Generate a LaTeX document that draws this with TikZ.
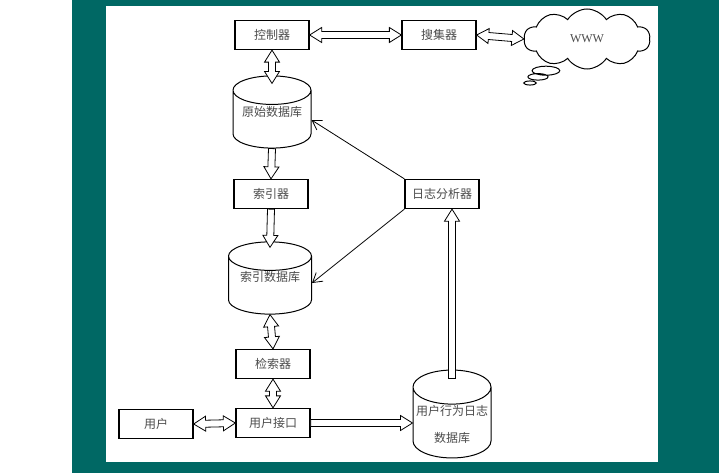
\documentclass[tikz,border=0pt]{standalone}
\usepackage{fontspec}
\setmainfont{Liberation Serif}
\newfontfamily\cjk{Noto Sans CJK SC}
\usepackage{tikz}
\usetikzlibrary{shapes.geometric, shapes.callouts, arrows.meta, calc}
\definecolor{bgteal}{RGB}{0,104,100}
\tikzset{
    box/.style={rectangle, draw, line width=1.3pt, minimum width=74pt, minimum height=29pt, inner sep=1pt, font=\cjk\fontsize{12}{14}\selectfont, text=black!70},
    db/.style={cylinder, shape border rotate=90, draw, line width=1pt, aspect=0.46, inner sep=1pt, anchor=shape center, font=\cjk\fontsize{12}{14}\selectfont, text=black!70},
    fatarrow/.style={draw, line width=0.8pt, fill=white},
    thinarrow/.style={-{Straight Barb[length=9pt, width=11pt]}, line width=0.8pt}
}
\newcommand{\fashaft}{3.5pt}
\newcommand{\fawing}{7.5pt}
\newcommand{\falen}{12pt}
% block arrow, head at #2
\newcommand{\fatarrow}[2]{%
  \coordinate (fa-s) at (#1);
  \coordinate (fa-e) at (#2);
  \coordinate (fa-n) at ($(fa-e)!\falen!(fa-s)$);
  \draw[fatarrow] ($(fa-s)!\fashaft!90:(fa-e)$) -- ($(fa-n)!\fashaft!90:(fa-e)$)
    -- ($(fa-n)!\fawing!90:(fa-e)$) -- (fa-e) -- ($(fa-n)!\fawing!-90:(fa-e)$)
    -- ($(fa-n)!\fashaft!-90:(fa-e)$) -- ($(fa-s)!\fashaft!-90:(fa-e)$) -- cycle;
}
% block arrow, heads at both ends
\newcommand{\fatarrows}[2]{%
  \coordinate (fa-s) at (#1);
  \coordinate (fa-e) at (#2);
  \coordinate (fa-m) at ($(fa-s)!\falen!(fa-e)$);
  \coordinate (fa-n) at ($(fa-e)!\falen!(fa-s)$);
  \draw[fatarrow] (fa-s) -- ($(fa-m)!\fawing!90:(fa-e)$) -- ($(fa-m)!\fashaft!90:(fa-e)$)
    -- ($(fa-n)!\fashaft!90:(fa-e)$) -- ($(fa-n)!\fawing!90:(fa-e)$) -- (fa-e)
    -- ($(fa-n)!\fawing!-90:(fa-e)$) -- ($(fa-n)!\fashaft!-90:(fa-e)$)
    -- ($(fa-m)!\fashaft!-90:(fa-e)$) -- ($(fa-m)!\fawing!-90:(fa-e)$) -- cycle;
}
\begin{document}
\begin{tikzpicture}[x=1pt, y=-1pt]

    % Background
    \useasboundingbox (0,0) rectangle (719,473);
    \fill[white] (0,0) rectangle (719,473);
    \fill[bgteal] (72,0) rectangle (719,473);
    \fill[white] (106,6) rectangle (658,462);

    % Boxes
    \node[box] (ctrl) at (272,35) {控制器};
    \node[box] (coll) at (439,35) {搜集器};
    \node[box] (idxr) at (271,194) {索引器};
    \node[box] (ana) at (442,194) {日志分析器};
    \node[box] (srch) at (273,364) {检索器};
    \node[box] (ui) at (273,423) {用户接口};
    \node[box] (user) at (156,424) {用户};

    % Databases
    \node[db, minimum width=78pt, minimum height=66pt, text depth=20pt] (raw) at (272,112) {原始数据库};
    \node[db, minimum width=83pt, minimum height=66pt, text depth=20pt] (idb) at (270,278) {索引数据库};
    \node[db, minimum width=78pt, minimum height=82pt, align=center, font=\cjk\fontsize{12}{27}\selectfont] (log) at (452,414) {用户行为日志\\数据库};

    % Web
    \node[cloud callout, draw, line width=1pt, cloud puffs=10, cloud puff arc=115, cloud ignores aspect, minimum width=126pt, minimum height=60pt, callout absolute pointer={(530,83)}, callout pointer segments=3, callout pointer start size=.28 of callout, callout pointer end size=.1 of callout, font=\fontsize{12}{14}\selectfont, text=black!70] (www) at (587,39) {WWW};

    % Block arrows
    \fatarrows{ctrl.east}{coll.west}
    \fatarrows{coll.east}{www.west}
    \fatarrows{ctrl.south}{[yshift=-8pt]raw.north}
    \fatarrow{raw.south}{idxr.north}
    \fatarrow{idxr.south}{[yshift=-6pt]idb.north}
    \fatarrows{idb.south}{srch.north}
    \fatarrows{srch.south}{ui.north}
    \fatarrows{user.east}{ui.west}
    \fatarrow{ui.east}{ui.east -| log.west}
    \fatarrow{[yshift=-9pt]log.north}{ana.south -| log.north}

    % Log links
    \draw[thinarrow] (ana.north west) -- ($(raw.shape center -| raw.east)+(0,8)$);
    \draw[thinarrow] (ana.south west) -- ($(idb.shape center -| idb.east)+(0,5)$);

\end{tikzpicture}
\end{document}
